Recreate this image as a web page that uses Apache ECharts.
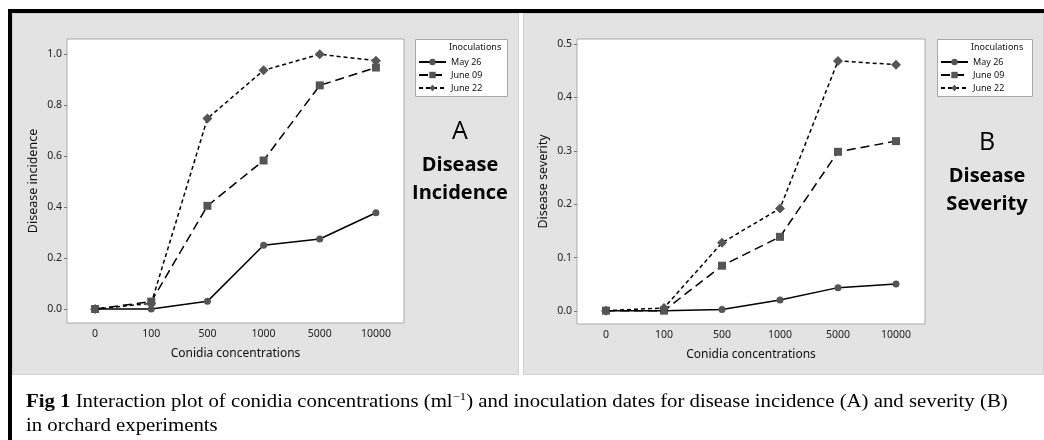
<!DOCTYPE html>
<html>
<head>
<meta charset="utf-8">
<script src="https://cdn.jsdelivr.net/npm/echarts@6/dist/echarts.min.js"></script>
<style>
  body { margin: 0; background: #fff; }
  .frame-top { position: absolute; left: 8px; top: 9px; width: 1036px; height: 4px; background: #000; }
  .frame-left { position: absolute; left: 8px; top: 9px; width: 4px; height: 431px; background: #000; }
  .panel { position: absolute; top: 13px; height: 362px; background: #e3e3e3; border: 1px solid #d2d2d2; box-sizing: border-box; }
  #chart { position: absolute; left: 0; top: 0; width: 1044px; height: 440px; }
  .caption { position: absolute; left: 26px; top: 384px; font-family: "Liberation Serif", serif; font-size: 18px; line-height: 24px; color: #000;
    white-space: nowrap; transform: scaleX(1.155); transform-origin: left top; }
  .caption sup { font-size: 11px; }
</style>
</head>
<body>
<div class="frame-top"></div>
<div class="frame-left"></div>
<div class="panel" style="left:12px;width:507px;"></div>
<div class="panel" style="left:523px;width:521px;"></div>
<div id="chart"></div>
<div class="caption"><b>Fig 1</b> Interaction plot of conidia concentrations (ml<sup>&minus;1</sup>) and inoculation dates for disease incidence (A) and severity (B)<br>in orchard experiments</div>
<script>
  // data
  var concentrations = ['0', '100', '500', '1000', '5000', '10000']
  var seriesNames = ['May 26', 'June 09', 'June 22']
  var incidenceMay26 = [0, 0, 0.03, 0.25, 0.275, 0.378]
  var incidenceJune09 = [0, 0.029, 0.405, 0.583, 0.878, 0.948]
  var incidenceJune22 = [0, 0.022, 0.748, 0.937, 1.0, 0.975]
  var severityMay26 = [0.001, 0.001, 0.003, 0.021, 0.044, 0.051]
  var severityJune09 = [0.001, 0.001, 0.085, 0.139, 0.298, 0.318]
  var severityJune22 = [0.001, 0.006, 0.128, 0.192, 0.468, 0.461]
  var incidenceTicks = [0, 0.2, 0.4, 0.6, 0.8, 1.0]
  var severityTicks = [0, 0.1, 0.2, 0.3, 0.4, 0.5]

  var tickFont = { fontFamily: 'Noto Sans', fontSize: 10.5, color: '#222' }
  var symbols = ['circle', 'rect', 'diamond']
  var symbolSizes = [7, 8, 10]
  var dashes = ['solid', [9, 5], [4, 3]]

  function makeX (gridIndex) {
    return {
      type: 'category',
      gridIndex: gridIndex,
      data: concentrations,
      name: 'Conidia concentrations',
      nameLocation: 'middle',
      nameGap: 25,
      nameTextStyle: { fontFamily: 'Noto Sans', fontSize: 12, color: '#111' },
      axisLine: { show: false },
      axisTick: { alignWithLabel: true, length: 4, lineStyle: { color: '#777' } },
      axisLabel: Object.assign({ margin: 6 }, tickFont),
      splitLine: { show: false }
    }
  }

  function makeY (gridIndex, min, max, ticks, name) {
    return {
      type: 'value',
      gridIndex: gridIndex,
      min: min,
      max: max,
      name: name,
      nameLocation: 'middle',
      nameGap: 27,
      nameTextStyle: { fontFamily: 'Noto Sans', fontSize: 12.5, color: '#111' },
      axisLine: { show: false },
      axisTick: { show: true, length: 3, customValues: ticks, lineStyle: { color: '#777' } },
      axisLabel: Object.assign({ margin: 5, customValues: ticks, formatter: function (v) { return v.toFixed(1) } }, tickFont),
      splitLine: { show: false }
    }
  }

  function makeSeries (gridIndex, lists) {
    return lists.map(function (vals, i) {
      return {
        name: seriesNames[i],
        type: 'line',
        xAxisIndex: gridIndex,
        yAxisIndex: gridIndex,
        data: vals,
        symbol: symbols[i],
        symbolSize: symbolSizes[i],
        itemStyle: { color: '#555' },
        lineStyle: { color: '#000', width: 1.5, type: dashes[i] },
        z: 3 - i,
        animation: false
      }
    })
  }

  function makeLegend (left) {
    return {
      left: left,
      top: 56,
      orient: 'vertical',
      itemWidth: 27,
      itemHeight: 8,
      itemGap: 1,
      padding: 0,
      data: seriesNames,
      textStyle: { fontFamily: 'Noto Sans', fontSize: 9, lineHeight: 12, color: '#111' }
    }
  }

  function legendBox (x, w) {
    return [
      { type: 'rect', left: x, top: 39, shape: { width: w, height: 57 }, style: { fill: '#fff', stroke: '#a8a8a8', lineWidth: 1 }, z: -1 },
      { type: 'text', left: x + 34, top: 43, style: { text: 'Inoculations', fontFamily: 'Noto Sans', fontSize: 9, fill: '#111' } }
    ]
  }

  function label (cx, cy, text, size, weight) {
    return {
      type: 'text', x: cx, y: cy,
      style: { text: text, fontFamily: 'Open Sans', fontSize: size, fontWeight: weight, fill: '#000', align: 'center', verticalAlign: 'middle' }
    }
  }

  var chart = echarts.init(document.getElementById('chart'))
  chart.setOption({
    backgroundColor: 'transparent',
    animation: false,
    grid: [
      { left: 67, top: 39, width: 337, height: 284, show: true, backgroundColor: '#fff', borderColor: '#aaa', borderWidth: 1 },
      { left: 577, top: 39, width: 348, height: 285, show: true, backgroundColor: '#fff', borderColor: '#aaa', borderWidth: 1 }
    ],
    xAxis: [makeX(0), makeX(1)],
    yAxis: [
      makeY(0, -0.055, 1.06, incidenceTicks, 'Disease incidence'),
      makeY(1, -0.024, 0.509, severityTicks, 'Disease severity')
    ],
    legend: [makeLegend(418), makeLegend(940)],
    series: makeSeries(0, [incidenceMay26, incidenceJune09, incidenceJune22])
      .concat(makeSeries(1, [severityMay26, severityJune09, severityJune22])),
    graphic: legendBox(415, 92).concat(legendBox(937, 95)).concat([
      label(460, 132, 'A', 25, 'normal'),
      label(460, 165, 'Disease', 20, 'bold'),
      label(460, 193, 'Incidence', 20, 'bold'),
      label(987, 143, 'B', 25, 'normal'),
      label(987, 176, 'Disease', 20, 'bold'),
      label(987, 204, 'Severity', 20, 'bold')
    ])
  })
</script>
</body>
</html>
